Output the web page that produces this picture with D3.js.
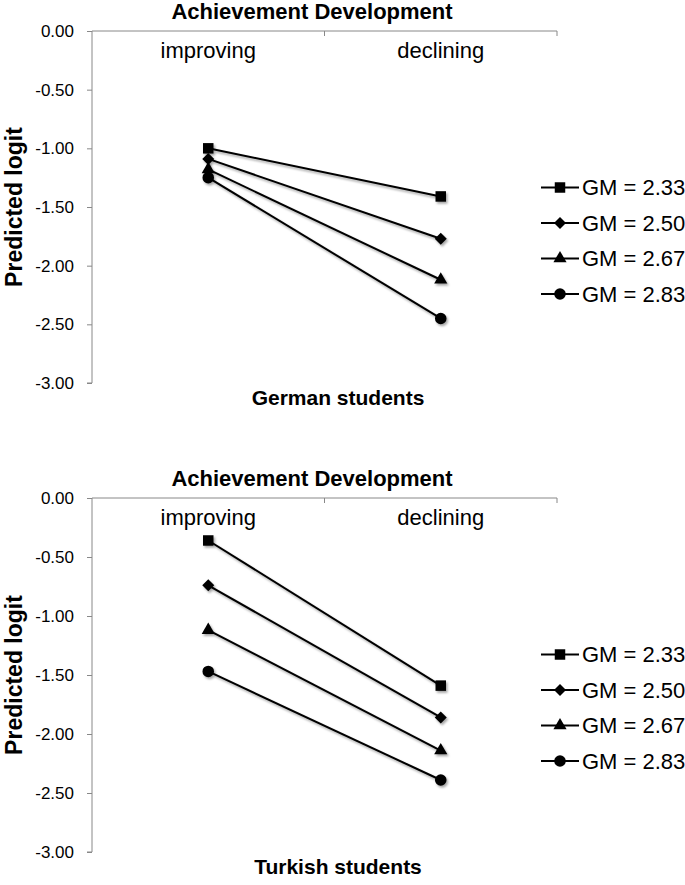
<!DOCTYPE html>
<meta charset='utf-8'>
<style>
body { margin: 0; background: #fff; }
text { font-family: 'Liberation Sans', Arial, sans-serif; fill: #000; }
</style>
<div id='chart'></div>
<script src='https://d3js.org/d3.v7.min.js'></script>
<script>
// values
var categories = ['improving', 'declining'];
var groups = ['GM = 2.33', 'GM = 2.50', 'GM = 2.67', 'GM = 2.83'];
var germanImproving = [-1.00, -1.09, -1.18, -1.25];
var germanDeclining = [-1.41, -1.77, -2.12, -2.45];
var turkishImproving = [-0.36, -0.74, -1.12, -1.47];
var turkishDeclining = [-1.59, -1.86, -2.14, -2.39];
var yTicks = [0, -0.5, -1, -1.5, -2, -2.5, -3];

var width = 685, height = 885;
var left = 92, right = 557;

var svg = d3.select('#chart')
  .append('svg')
    .attr('width', width)
    .attr('height', height);

var defs = svg.append('defs');
defs.append('filter')
    .attr('id', 'shadow')
    .attr('x', '-50%').attr('y', '-50%')
    .attr('width', '200%').attr('height', '200%')
  .append('feDropShadow')
    .attr('dx', 1.5).attr('dy', 2)
    .attr('stdDeviation', 1.2)
    .attr('flood-color', '#000')
    .attr('flood-opacity', 0.35);

var shapes = [
  d3.symbol().type(d3.symbolSquare).size(110),
  d3.symbol().type(d3.symbolSquare).size(72),
  d3.symbol().type(d3.symbolTriangle).size(75),
  d3.symbol().type(d3.symbolCircle).size(105)
];
var rotate = [0, 45, 0, 0];

function panel(top, bottom, title, subtitle, improving, declining) {
  var g = svg.append('g');

  var x = d3.scaleBand().domain(categories).range([left, right]);
  var y = d3.scaleLinear().domain([0, -3]).range([top, bottom]);

  // y axis
  var yAxis = g.append('g')
    .attr('transform', 'translate(' + left + ',0)')
    .call(d3.axisLeft(y).tickValues(yTicks).tickSize(5).tickPadding(13));
  yAxis.select('.domain').attr('stroke', '#888').attr('d', 'M-5,' + bottom + 'H0V' + top);
  yAxis.selectAll('.tick line').attr('stroke', '#888');
  yAxis.selectAll('.tick text')
    .style('font-size', '17px')
    .text(function(d) { return d3.format('.2f')(d).replace('−', '-'); });

  // category axis along the top, ticks between categories
  var xAxis = g.append('g');
  xAxis.append('line')
    .attr('x1', left).attr('x2', right)
    .attr('y1', top).attr('y2', top)
    .attr('stroke', '#888');
  xAxis.selectAll('.xt')
    .data(categories)
    .enter()
    .append('line')
      .attr('x1', function(d) { return x(d) + x.bandwidth(); })
      .attr('x2', function(d) { return x(d) + x.bandwidth(); })
      .attr('y1', top).attr('y2', top + 5)
      .attr('stroke', '#888');
  xAxis.selectAll('.xl')
    .data(categories)
    .enter()
    .append('text')
      .attr('x', function(d) { return x(d) + x.bandwidth() / 2; })
      .attr('y', top + 27)
      .attr('text-anchor', 'middle')
      .style('font-size', '22px')
      .text(function(d) { return d; });

  // titles
  g.append('text')
    .attr('x', 312).attr('y', top - 12)
    .attr('text-anchor', 'middle')
    .style('font-size', '22px').style('font-weight', 'bold')
    .text(title);
  g.append('text')
    .attr('x', 338).attr('y', bottom + 22)
    .attr('text-anchor', 'middle')
    .style('font-size', '21px').style('font-weight', 'bold')
    .text(subtitle);
  g.append('text')
    .attr('transform', 'translate(22,' + (top + bottom) / 2 + ') rotate(-90)')
    .attr('text-anchor', 'middle')
    .style('font-size', '23px').style('font-weight', 'bold')
    .text('Predicted logit');

  // lines and markers
  var series = groups.map(function(name, i) {
    return { name: name, i: i, values: [improving[i], declining[i]] };
  });
  var cx = function(j) { return x(categories[j]) + x.bandwidth() / 2; };

  var s = g.selectAll('.series')
    .data(series)
    .enter()
    .append('g')
      .attr('filter', 'url(#shadow)');
  s.append('path')
    .attr('fill', 'none')
    .attr('stroke', '#000')
    .attr('stroke-width', 2)
    .attr('d', function(d) {
      return d3.line()
        .x(function(v, j) { return cx(j); })
        .y(function(v) { return y(v); })(d.values);
    });
  s.selectAll('.m')
    .data(function(d) { return d.values.map(function(v, j) { return { v: v, j: j, i: d.i }; }); })
    .enter()
    .append('path')
      .attr('transform', function(d) {
        return 'translate(' + cx(d.j) + ',' + y(d.v) + ') rotate(' + rotate[d.i] + ')';
      })
      .attr('d', function(d) { return shapes[d.i](); })
      .attr('fill', '#000');

  // legend
  var legend = g.selectAll('.legend')
    .data(series)
    .enter()
    .append('g')
      .attr('transform', function(d) { return 'translate(541,' + (top + 156.5 + d.i * 35.5) + ')'; });
  legend.append('line')
    .attr('x1', 0).attr('x2', 38)
    .attr('stroke', '#000').attr('stroke-width', 2);
  legend.append('path')
    .attr('transform', function(d) { return 'translate(19,0) rotate(' + rotate[d.i] + ')'; })
    .attr('d', function(d) { return shapes[d.i](); })
    .attr('fill', '#000');
  legend.append('text')
    .attr('x', 41).attr('dy', '0.36em')
    .style('font-size', '22px')
    .text(function(d) { return d.name; });
}

panel(31, 383, 'Achievement Development', 'German students', germanImproving, germanDeclining);
panel(498, 852, 'Achievement Development', 'Turkish students', turkishImproving, turkishDeclining);
</script>
